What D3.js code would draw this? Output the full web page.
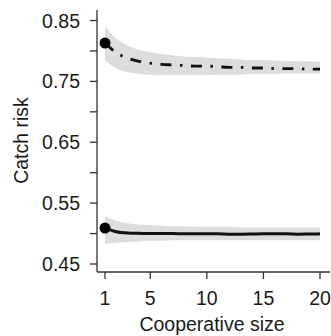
<!DOCTYPE html>
<html>
<head>
<meta charset="utf-8">
<script src="https://cdn.jsdelivr.net/npm/d3@7"></script>
<style>
  html, body { margin: 0; padding: 0; background: #fff; }
  svg { display: block; }
  text { font-family: "Liberation Sans", Arial, Helvetica, sans-serif; fill: #1a1a1a; }
</style>
</head>
<body>
<svg id="chart" width="331" height="336"></svg>
<script>
// cooperative size (x) and catch risk estimates
const sizes = d3.range(1, 21);

const highMean  = [0.813, 0.797, 0.788, 0.783, 0.780, 0.778, 0.777, 0.776, 0.775, 0.775,
                   0.774, 0.773, 0.773, 0.772, 0.772, 0.771, 0.771, 0.771, 0.770, 0.770];
const highUpper = [0.840, 0.820, 0.809, 0.802, 0.798, 0.795, 0.793, 0.791, 0.790, 0.789,
                   0.788, 0.787, 0.786, 0.785, 0.785, 0.784, 0.784, 0.783, 0.783, 0.782];
const highLower = [0.785, 0.771, 0.765, 0.762, 0.761, 0.760, 0.760, 0.760, 0.760, 0.760,
                   0.761, 0.761, 0.761, 0.762, 0.762, 0.762, 0.763, 0.763, 0.763, 0.763];

const lowMean   = [0.509, 0.503, 0.501, 0.5005, 0.500, 0.500, 0.500, 0.4995, 0.4995, 0.4995,
                   0.4995, 0.499, 0.499, 0.4992, 0.4995, 0.4995, 0.4995, 0.499, 0.4992, 0.4995];
const lowUpper  = [0.528, 0.521, 0.517, 0.515, 0.514, 0.513, 0.512, 0.512, 0.511, 0.511,
                   0.511, 0.511, 0.510, 0.510, 0.510, 0.510, 0.510, 0.510, 0.510, 0.510];
const lowLower  = [0.483, 0.485, 0.486, 0.487, 0.488, 0.488, 0.489, 0.489, 0.489, 0.489,
                   0.489, 0.489, 0.489, 0.489, 0.489, 0.489, 0.489, 0.489, 0.489, 0.489];

const yMajor = [0.45, 0.55, 0.65, 0.75, 0.85];
const yMinor = [0.50, 0.60, 0.70, 0.80];
const xTicks = [1, 5, 10, 15, 20];

const svg = d3.select("#chart");

const x = d3.scaleLinear().domain([1, 20]).range([105, 320]);
const y = d3.scaleLinear().domain([0.45, 0.85]).range([264, 20.5]);

const axisColor = "#333";
const fontSize = 19.5;

// confidence bands
const band = (lo, hi) => d3.area()
  .x((d, i) => x(sizes[i]))
  .y0((d, i) => y(lo[i]))
  .y1((d, i) => y(hi[i]))
  .curve(d3.curveMonotoneX)(sizes);

svg.append("path").attr("d", band(highLower, highUpper)).attr("fill", "#dddddd");
svg.append("path").attr("d", band(lowLower, lowUpper)).attr("fill", "#dddddd");

// mean lines
const line = vals => d3.line()
  .x((d, i) => x(sizes[i]))
  .y((d, i) => y(vals[i]))
  .curve(d3.curveMonotoneX)(sizes);

svg.append("path")
  .attr("d", line(highMean))
  .attr("fill", "none")
  .attr("stroke", "#111")
  .attr("stroke-width", 2.8)
  .attr("stroke-dasharray", "11,8.5,2.5,8.5");

svg.append("path")
  .attr("d", line(lowMean))
  .attr("fill", "none")
  .attr("stroke", "#111")
  .attr("stroke-width", 3);

// first point markers
svg.append("circle").attr("cx", x(sizes[0])).attr("cy", y(highMean[0])).attr("r", 5.5).attr("fill", "#000");
svg.append("circle").attr("cx", x(sizes[0])).attr("cy", y(lowMean[0])).attr("r", 5.5).attr("fill", "#000");

// axis lines (L frame)
const axisX = 97, axisY = 272;
svg.append("line")
  .attr("x1", axisX).attr("x2", axisX).attr("y1", 10).attr("y2", axisY)
  .attr("stroke", axisColor).attr("stroke-width", 1.3);
svg.append("line")
  .attr("x1", axisX).attr("x2", 330).attr("y1", axisY).attr("y2", axisY)
  .attr("stroke", axisColor).attr("stroke-width", 1.3);

// y ticks
svg.selectAll("line.ytick")
  .data(yMajor.concat(yMinor))
  .enter().append("line")
  .attr("class", "ytick")
  .attr("x1", axisX - 7).attr("x2", axisX)
  .attr("y1", d => y(d)).attr("y2", d => y(d))
  .attr("stroke", axisColor).attr("stroke-width", 1.3);

svg.selectAll("text.ylab")
  .data(yMajor)
  .enter().append("text")
  .attr("class", "ylab")
  .attr("x", 80)
  .attr("y", d => y(d))
  .attr("dy", "0.36em")
  .attr("text-anchor", "end")
  .style("font-size", fontSize + "px")
  .text(d => d3.format(".2f")(d));

// x ticks
svg.selectAll("line.xtick")
  .data(xTicks)
  .enter().append("line")
  .attr("class", "xtick")
  .attr("x1", d => x(d)).attr("x2", d => x(d))
  .attr("y1", axisY).attr("y2", axisY + 7)
  .attr("stroke", axisColor).attr("stroke-width", 1.3);

svg.selectAll("text.xlab")
  .data(xTicks)
  .enter().append("text")
  .attr("class", "xlab")
  .attr("x", d => x(d))
  .attr("y", 305)
  .attr("text-anchor", "middle")
  .style("font-size", fontSize + "px")
  .text(d => d);

// axis titles
svg.append("text")
  .attr("x", 212).attr("y", 331)
  .attr("text-anchor", "middle")
  .style("font-size", fontSize + "px")
  .text("Cooperative size");

svg.append("text")
  .attr("transform", "translate(28,140.5) rotate(-90)")
  .attr("text-anchor", "middle")
  .style("font-size", fontSize + "px")
  .text("Catch risk");
</script>
</body>
</html>
